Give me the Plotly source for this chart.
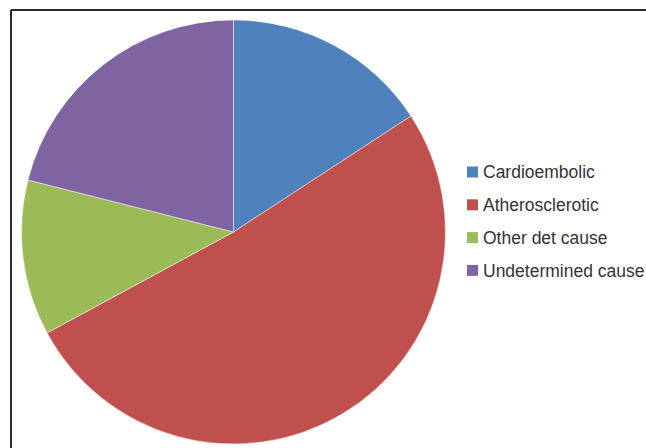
import plotly.graph_objects as go

labels = ["Cardioembolic", "Atherosclerotic", "Other det cause", "Undetermined cause"]
values = [12, 39, 9, 16]
colors = ["#4F81BD", "#C0504D", "#9BBB59", "#8064A2"]

W, H = 646, 448

def px(x):
    return x / W

def py(y):
    return 1 - y / H

fig = go.Figure(go.Pie(
    labels=labels, values=values, sort=False, direction="clockwise", rotation=0,
    marker=dict(colors=colors, line=dict(color="rgba(255,255,255,0.8)", width=0.6)),
    textinfo="none", hoverinfo="label+value+percent",
    domain=dict(x=[px(21.5), px(445.5)], y=[py(444), py(20)]),
    showlegend=False,
))

shapes = [
    dict(type="line", xref="paper", yref="paper", x0=px(11), x1=1.01, y0=py(10), y1=py(10),
         line=dict(color="#2b2b2b", width=2)),
    dict(type="line", xref="paper", yref="paper", x0=px(11), x1=px(11), y0=py(10), y1=-0.01,
         line=dict(color="#2b2b2b", width=2)),
]
annotations = []
row0, gap = 172, 32.8
for i, (lab, col) in enumerate(zip(labels, colors)):
    yc = row0 + i * gap
    shapes.append(dict(type="rect", xref="paper", yref="paper",
                       x0=px(467), x1=px(478), y0=py(yc + 5.5), y1=py(yc - 5.5),
                       fillcolor=col, line=dict(width=0)))
    annotations.append(dict(xref="paper", yref="paper", x=px(481), y=py(yc + 0.5),
                            xanchor="left", yanchor="middle", showarrow=False, text=lab,
                            font=dict(family="Liberation Sans, Arial", size=17.5, color="#333333")))

fig.update_layout(
    width=W, height=H, margin=dict(l=0, r=0, t=0, b=0),
    paper_bgcolor="white", plot_bgcolor="white",
    shapes=shapes, annotations=annotations,
)
fig.write_html("out.html")
